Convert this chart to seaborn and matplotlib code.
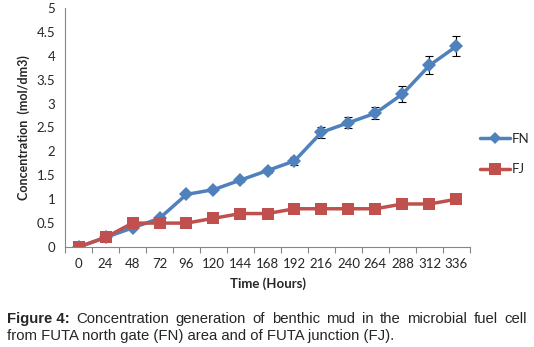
import numpy as np
import pandas as pd
import matplotlib
matplotlib.use('Agg')
import matplotlib.pyplot as plt
import seaborn as sns
from matplotlib.lines import Line2D

# data
hours = [0, 24, 48, 72, 96, 120, 144, 168, 192, 216, 240, 264, 288, 312, 336]
fn_conc = [0, 0.2, 0.4, 0.6, 1.1, 1.2, 1.4, 1.6, 1.8, 2.4, 2.6, 2.8, 3.2, 3.8, 4.2]
fn_err = [0, 0, 0, 0, 0.02, 0.03, 0.04, 0.06, 0.08, 0.12, 0.12, 0.13, 0.16, 0.19, 0.21]
fj_conc = [0, 0.2, 0.5, 0.5, 0.5, 0.6, 0.7, 0.7, 0.8, 0.8, 0.8, 0.8, 0.9, 0.9, 1.0]
y_ticks = [0, 0.5, 1, 1.5, 2, 2.5, 3, 3.5, 4, 4.5, 5]
y_labels = ['0', '0.5', '1', '1.5', '2', '2.5', '3', '3.5', '4', '4.5', '5']

df = pd.DataFrame({'Time': hours * 2,
                   'Conc': fn_conc + fj_conc,
                   'Site': ['FN'] * len(hours) + ['FJ'] * len(hours)})

sns.set_style('white')
plt.rcParams['font.family'] = ['Lato', 'DejaVu Sans']

blue = '#4F81BD'
red = '#C0504D'

fig = plt.figure(figsize=(5.34, 3.47), dpi=100)
ax = fig.add_axes([65 / 534, 100 / 347, 405 / 534, 239 / 347])

ax.errorbar(hours, fn_conc, yerr=fn_err, fmt='none', ecolor='black',
            elinewidth=0.8, capsize=3, capthick=0.8, zorder=1)
sns.lineplot(data=df, x='Time', y='Conc', hue='Site', style='Site',
             palette={'FN': blue, 'FJ': red},
             markers={'FN': 'D', 'FJ': 's'}, dashes=False,
             markersize=7, linewidth=2.5, markeredgewidth=0,
             ax=ax, legend=False, zorder=2)
# square markers a bit larger like the original
ax.lines[-1].set_markersize(9)

ax.set_xlim(-12, 348)
ax.set_ylim(0, 5)
ax.set_xticks(hours)
ax.set_xticklabels([str(h) for h in hours], fontsize=9.5)
ax.set_xticks([h - 12 for h in hours] + [348], minor=True)
ax.set_yticks(y_ticks)
ax.set_yticklabels(y_labels, fontsize=9.5)
ax.tick_params(axis='x', which='major', length=0, pad=8)
ax.tick_params(axis='x', which='minor', length=4, color='#868686', width=0.8, direction='out')
ax.tick_params(axis='y', length=4, color='#868686', width=0.8, direction='out', pad=3)
ax.xaxis.set_tick_params(which='minor', bottom=True)
for s in ['top', 'right']:
    ax.spines[s].set_visible(False)
for s in ['left', 'bottom']:
    ax.spines[s].set_color('#868686')
    ax.spines[s].set_linewidth(0.8)

ax.set_xlabel('Time (Hours)', fontsize=9.5, fontweight='bold', labelpad=5)
ax.set_ylabel('Concentration  (mol/dm3)', fontsize=9, fontweight='bold', labelpad=5)

handles = [Line2D([], [], color=blue, marker='D', markersize=6, lw=2.5, markeredgewidth=0),
           Line2D([], [], color=red, marker='s', markersize=8, lw=2.5, markeredgewidth=0)]
fig.legend(handles, ['FN', 'FJ'], loc='center left', bbox_to_anchor=(468 / 534, 1 - 154 / 347),
           frameon=False, fontsize=9.5, handlelength=2.3, handletextpad=0.15, labelspacing=1.4)

# caption, first line justified across the width
cap_fs = 10.75
renderer = fig.canvas.get_renderer()
line1 = ['Figure 4:', 'Concentration', 'generation', 'of', 'benthic', 'mud', 'in', 'the',
         'microbial', 'fuel', 'cell']
x_left, x_right = 7 / 534, 527 / 534
texts = []
for i, w in enumerate(line1):
    t = fig.text(0, 1 - 319 / 347, w, fontsize=cap_fs, family='Liberation Sans',
                 fontweight='bold' if i == 0 else 'normal', va='center', ha='left')
    texts.append(t)
widths = [t.get_window_extent(renderer).width / fig.bbox.width for t in texts]
gap = (x_right - x_left - sum(widths)) / (len(texts) - 1)
x = x_left
for t, w in zip(texts, widths):
    t.set_x(x)
    x += w + gap
fig.text(x_left, 1 - 336 / 347, 'from FUTA north gate (FN) area and of FUTA junction (FJ).',
         fontsize=cap_fs, family='Liberation Sans', va='center', ha='left')

fig.savefig('out.png', dpi=100)
